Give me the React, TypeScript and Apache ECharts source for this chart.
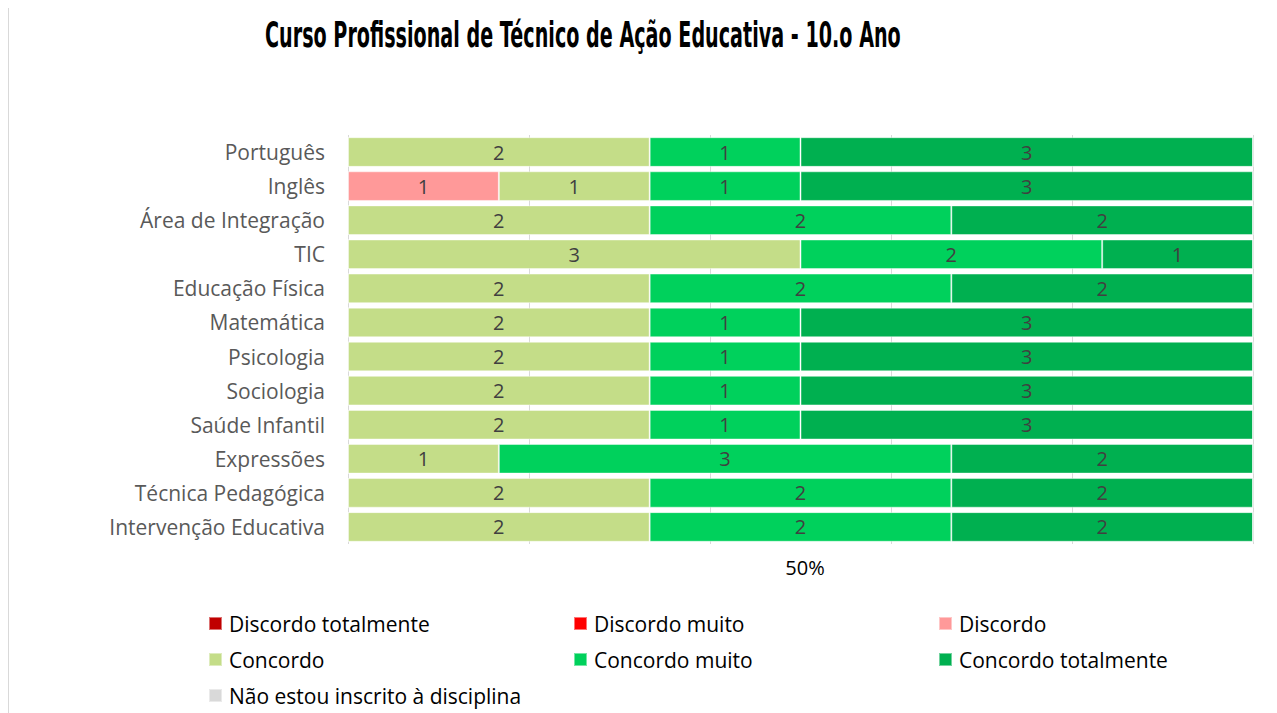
import React, { useEffect, useRef } from "react";
import * as echarts from "echarts";

const categories = [
  "Português",
  "Inglês",
  "Área de Integração",
  "TIC",
  "Educação Física",
  "Matemática",
  "Psicologia",
  "Sociologia",
  "Saúde Infantil",
  "Expressões",
  "Técnica Pedagógica",
  "Intervenção Educativa",
];

const seriesNames = [
  "Discordo totalmente",
  "Discordo muito",
  "Discordo",
  "Concordo",
  "Concordo muito",
  "Concordo totalmente",
  "Não estou inscrito à disciplina",
];

const discordoTotalmente = [0, 0, 0, 0, 0, 0, 0, 0, 0, 0, 0, 0];
const discordoMuito = [0, 0, 0, 0, 0, 0, 0, 0, 0, 0, 0, 0];
const discordo = [0, 1, 0, 0, 0, 0, 0, 0, 0, 0, 0, 0];
const concordo = [2, 1, 2, 3, 2, 2, 2, 2, 2, 1, 2, 2];
const concordoMuito = [1, 1, 2, 2, 2, 1, 1, 1, 1, 3, 2, 2];
const concordoTotalmente = [3, 3, 2, 1, 2, 3, 3, 3, 3, 2, 2, 2];
const naoInscrito = [0, 0, 0, 0, 0, 0, 0, 0, 0, 0, 0, 0];

const seriesValues = [
  discordoTotalmente,
  discordoMuito,
  discordo,
  concordo,
  concordoMuito,
  concordoTotalmente,
  naoInscrito,
];

const colors = ["#C00000", "#FF0000", "#FF9999", "#C4DD88", "#00D15C", "#00B050", "#D9D9D9"];

const titleText = "Curso Profissional de Técnico de Ação Educativa - 10.o Ano";

const FONT = "'Open Sans', 'Noto Sans', sans-serif";

export default function App() {
  const ref = useRef<HTMLDivElement>(null);

  useEffect(() => {
    if (!ref.current) return;
    const chart = echarts.init(ref.current, undefined, { renderer: "svg" });

    const totals = categories.map((_, i) =>
      seriesValues.reduce((s, arr) => s + arr[i], 0)
    );

    const legendPos = [
      [199, 605],
      [564, 605],
      [929, 605],
      [199, 641],
      [564, 641],
      [929, 641],
      [199, 677],
    ];

    const option: any = {
      animation: false,
      backgroundColor: "#ffffff",
      graphic: [
        {
          type: "text",
          x: 256,
          y: 9,
          scaleX: 0.532,
          style: {
            text: titleText,
            fontFamily: "'DejaVu Sans', sans-serif",
            fontWeight: "bold",
            fontSize: 36,
            fill: "#000000",
          },
        },
      ],
      legend: seriesNames.map((name, i) => ({
        data: [name],
        left: legendPos[i][0],
        top: legendPos[i][1],
        icon: "rect",
        itemWidth: 13,
        itemHeight: 13,
        selectedMode: false,
        padding: 0,
        textStyle: {
          fontFamily: FONT,
          fontSize: 21,
          color: "#000000",
          padding: [0, 0, 0, 2],
        },
      })),
      grid: {
        left: 339,
        right: 18,
        top: 127,
        bottom: 168,
        containLabel: false,
      },
      xAxis: [
        {
          type: "value",
          min: 0,
          max: 100,
          interval: 20,
          axisLabel: { show: false },
          axisLine: { show: false },
          axisTick: { show: false },
          splitLine: { show: true, lineStyle: { color: "#D9D9D9", width: 1 } },
        },
        {
          type: "value",
          min: 0,
          max: 100,
          interval: 50,
          position: "bottom",
          axisLine: { show: false },
          axisTick: { show: false },
          splitLine: { show: false },
          axisLabel: {
            margin: 13,
            fontFamily: FONT,
            fontSize: 20,
            color: "#000000",
            padding: [0, 0, 0, 9],
            formatter: (v: number) => (v === 50 ? "50%" : ""),
          },
        },
      ],
      yAxis: {
        type: "category",
        data: categories,
        inverse: true,
        axisLine: { show: false },
        axisTick: { show: false },
        splitLine: { show: false },
        axisLabel: {
          margin: 23,
          fontFamily: FONT,
          fontSize: 21,
          color: "#595959",
        },
      },
      series: seriesNames.map((name, si) => ({
        name,
        type: "bar",
        stack: "total",
        xAxisIndex: 0,
        barCategoryGap: "13%",
        itemStyle: {
          color: colors[si],
          borderColor: "rgba(255,255,255,0.45)",
          borderWidth: 1,
        },
        label: {
          show: true,
          position: "inside",
          fontFamily: FONT,
          fontSize: 20,
          color: "#404040",
          formatter: (p: any) => {
            const c = seriesValues[si][p.dataIndex];
            return c > 0 ? String(c) : "";
          },
        },
        data: seriesValues[si].map((v, i) => (v / totals[i]) * 100),
      })),
    };

    chart.setOption(option);
    return () => chart.dispose();
  }, []);

  return (
    <div style={{ border: "1px solid #D9D9D9", width: 1264, height: 712, boxSizing: "border-box", marginTop: -1 }}>
      <div ref={ref} style={{ width: 1262, height: 704 }} />
    </div>
  );
}
